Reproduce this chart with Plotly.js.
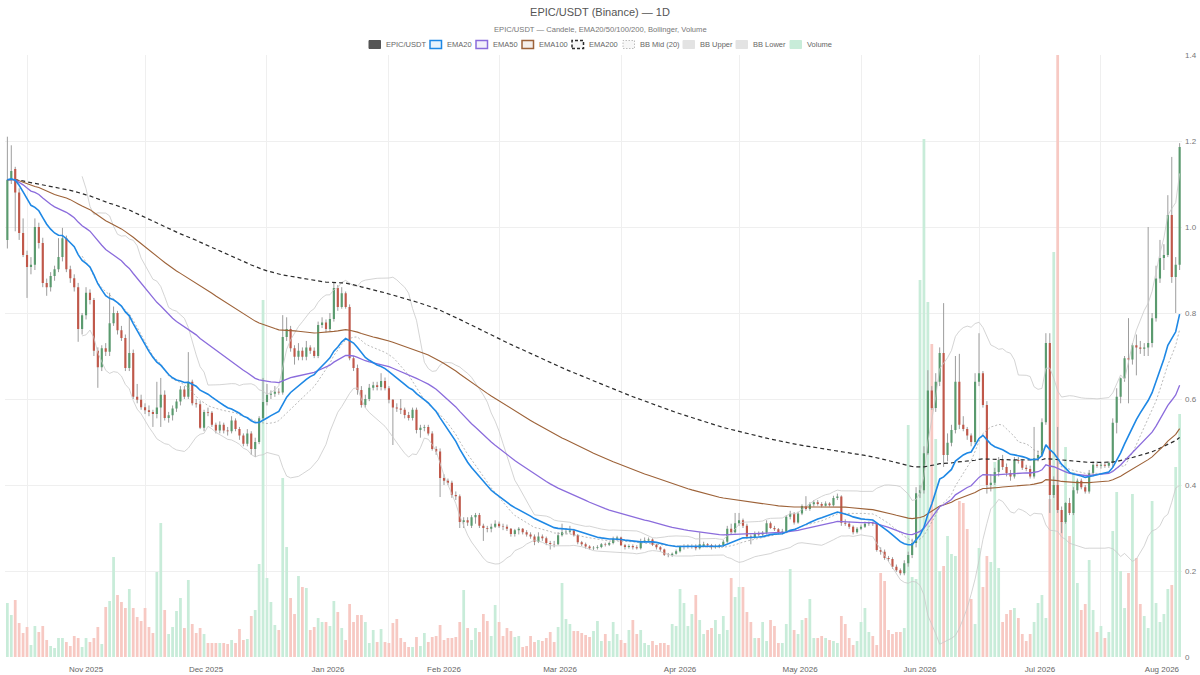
<!DOCTYPE html>
<html>
<head>
<meta charset="utf-8">
<script src="https://cdn.plot.ly/plotly-3.0.1.min.js"></script>
<style>
html,body{margin:0;padding:0;background:#fff;}
#chart{width:1200px;height:675px;}
</style>
</head>
<body>
<div id="chart"></div>
<script>
// ---------------- DATA ----------------
const START_DATE = '2025-10-27';   // first daily candle

const open = [
 .97,1.11,1.135,1.08,.986,.935,.907,.912,1.0,.963,
 .87,.86,.886,.902,.93,.974,.902,.881,.86,.763,
 .795,.847,.83,.712,.674,.718,.71,.776,.80,.76,
 .742,.672,.707,.605,.598,.581,.574,.570,.565,.58,
 .61,.556,.562,.578,.594,.622,.605,.64,.59,.588,
 .533,.57,.568,.54,.527,.54,.527,.525,.55,.53,
 .515,.496,.52,.484,.50,.555,.593,.61,.612,.617,
 .615,.744,.763,.718,.698,.712,.698,.72,.712,.70,
 .772,.778,.763,.786,.858,.814,.846,.814,.695,.672,
 .621,.586,.60,.626,.632,.628,.642,.625,.598,.58,
 .578,.575,.563,.556,.575,.528,.533,.535,.52,.484,
 .478,.416,.41,.405,.377,.374,.314,.318,.305,.325,
 .33,.305,.30,.298,.303,.31,.304,.303,.298,.286,
 .295,.298,.29,.285,.28,.268,.28,.276,.265,.263,
 .262,.283,.29,.291,.294,.283,.267,.262,.257,.253,
 .254,.256,.262,.261,.265,.275,.278,.26,.256,.258,
 .255,.253,.27,.271,.273,.261,.255,.25,.238,.237,
 .24,.246,.256,.257,.257,.258,.253,.258,.262,.26,
 .255,.257,.26,.268,.298,.29,.311,.318,.305,.28,
 .279,.287,.285,.289,.311,.30,.297,.29,.292,.326,
 .333,.313,.334,.351,.344,.355,.36,.356,.352,.357,
 .353,.37,.373,.312,.31,.303,.29,.298,.303,.31,
 .311,.31,.249,.245,.23,.228,.21,.202,.195,.218,
 .237,.265,.381,.388,.474,.62,.579,.64,.707,.47,
 .498,.528,.64,.54,.53,.515,.50,.64,.66,.586,
 .40,.405,.43,.458,.442,.428,.42,.458,.456,.44,
 .437,.42,.462,.47,.546,.73,.377,.40,.342,.314,
 .358,.335,.388,.41,.395,.385,.428,.447,.445,.447,
 .445,.452,.545,.605,.648,.695,.692,.725,.72,.717,
 .72,.73,.788,.88,.928,.935,1.028,.884,.912
];

const high = [
 1.21,1.19,1.14,1.09,1.02,.945,.93,1.02,1.01,.975,
 .88,.895,.91,.974,.998,.98,.91,.89,.87,.80,
 .86,.855,.835,.72,.725,.73,.847,.815,.805,.77,
 .75,.795,.715,.635,.61,.59,.585,.575,.64,.649,
 .62,.57,.585,.60,.63,.63,.709,.645,.60,.595,
 .575,.58,.572,.545,.548,.545,.535,.56,.555,.535,
 .52,.53,.525,.51,.56,.649,.635,.62,.63,.625,
 .795,.79,.77,.725,.73,.72,.735,.725,.72,.78,
 .79,.785,.80,.872,.865,.86,.85,.82,.70,.68,
 .63,.61,.635,.64,.64,.66,.65,.63,.60,.59,
 .60,.58,.57,.58,.58,.54,.54,.54,.525,.49,
 .485,.425,.415,.41,.385,.378,.325,.325,.33,.335,
 .335,.31,.305,.31,.318,.315,.31,.308,.30,.298,
 .302,.30,.295,.29,.285,.29,.285,.28,.27,.27,
 .29,.31,.30,.305,.298,.286,.27,.266,.26,.258,
 .26,.265,.266,.268,.28,.282,.28,.263,.262,.262,
 .26,.275,.278,.278,.276,.263,.258,.252,.242,.243,
 .25,.26,.262,.262,.262,.262,.29,.268,.265,.263,
 .262,.263,.272,.305,.31,.335,.335,.322,.31,.285,
 .292,.292,.293,.318,.315,.305,.30,.298,.33,.34,
 .337,.338,.355,.374,.36,.365,.365,.36,.362,.36,
 .375,.38,.376,.32,.315,.306,.302,.308,.315,.315,
 .315,.312,.255,.25,.235,.232,.215,.206,.225,.245,
 .275,.395,.40,.49,.667,.63,.66,.72,.823,.52,
 .54,.70,.705,.56,.535,.52,.66,.753,.665,.595,
 .425,.44,.465,.47,.45,.435,.465,.465,.46,.447,
 .445,.535,.48,.555,.753,.753,.42,.535,.35,.36,
 .37,.395,.415,.415,.40,.435,.455,.455,.452,.453,
 .455,.555,.625,.65,.70,.788,.73,.75,.735,.73,
 1.0,.80,.91,.97,.96,1.074,1.163,.93,1.195
];

const low = [
 .95,1.10,.99,.97,.93,.835,.89,.90,.95,.86,
 .84,.85,.875,.895,.92,.895,.87,.85,.733,.75,
 .785,.82,.70,.626,.665,.70,.70,.77,.75,.735,
 .665,.665,.60,.59,.575,.565,.56,.535,.555,.535,
 .55,.545,.55,.57,.585,.60,.60,.585,.58,.53,
 .525,.56,.535,.52,.52,.52,.515,.52,.525,.505,
 .49,.49,.47,.465,.495,.55,.585,.60,.605,.61,
 .61,.735,.71,.68,.69,.69,.69,.705,.695,.695,
 .765,.755,.758,.78,.805,.81,.81,.69,.665,.61,
 .58,.58,.595,.62,.62,.62,.62,.59,.493,.57,
 .565,.555,.55,.55,.52,.51,.525,.515,.48,.47,
 .372,.40,.40,.37,.365,.30,.30,.305,.30,.31,
 .30,.27,.29,.29,.30,.30,.295,.293,.28,.28,
 .285,.285,.28,.275,.26,.265,.27,.26,.25,.255,
 .26,.28,.285,.287,.28,.262,.258,.252,.25,.249,
 .25,.253,.257,.258,.262,.27,.258,.25,.252,.25,
 .25,.25,.265,.267,.258,.25,.245,.235,.232,.233,
 .238,.243,.25,.252,.252,.248,.25,.255,.255,.25,
 .252,.253,.256,.265,.285,.287,.305,.30,.275,.262,
 .275,.28,.28,.285,.298,.293,.285,.285,.288,.32,
 .308,.31,.33,.34,.34,.35,.352,.348,.35,.35,
 .35,.365,.305,.305,.298,.285,.287,.295,.30,.305,
 .305,.245,.238,.226,.222,.205,.198,.19,.19,.21,
 .23,.255,.37,.38,.47,.575,.57,.63,.442,.455,
 .49,.52,.53,.525,.505,.49,.495,.63,.58,.38,
 .385,.40,.42,.435,.42,.41,.415,.45,.435,.432,
 .415,.415,.455,.465,.54,.335,.37,.335,.288,.31,
 .33,.33,.38,.39,.38,.38,.42,.44,.438,.44,
 .44,.44,.52,.59,.64,.59,.68,.655,.705,.70,
 .70,.72,.78,.87,.90,.93,.87,.80,.90
];

const close = [
 1.11,1.13,1.08,.986,.935,.907,.912,1.0,.963,.87,
 .86,.886,.902,.93,.974,.902,.881,.86,.763,.795,
 .847,.83,.712,.674,.718,.71,.776,.80,.76,.742,
 .672,.707,.605,.598,.581,.574,.570,.565,.58,.61,
 .556,.562,.578,.594,.622,.605,.64,.59,.588,.533,
 .57,.568,.54,.527,.54,.527,.525,.55,.53,.515,
 .496,.52,.484,.50,.555,.593,.61,.612,.617,.615,
 .744,.763,.718,.698,.712,.698,.72,.712,.70,.772,
 .778,.763,.786,.858,.814,.846,.814,.695,.672,.621,
 .586,.60,.626,.632,.628,.642,.625,.598,.58,.578,
 .575,.563,.556,.575,.528,.533,.535,.52,.484,.478,
 .416,.41,.405,.377,.374,.314,.318,.313,.325,.33,
 .305,.30,.298,.303,.31,.304,.303,.298,.286,.295,
 .298,.29,.285,.28,.268,.28,.276,.265,.263,.262,
 .283,.29,.291,.294,.283,.267,.262,.257,.253,.254,
 .256,.262,.261,.265,.275,.278,.26,.256,.258,.255,
 .253,.27,.271,.273,.261,.255,.25,.238,.237,.24,
 .246,.256,.257,.259,.258,.253,.262,.262,.26,.255,
 .257,.26,.268,.298,.29,.311,.318,.305,.28,.279,
 .287,.285,.289,.311,.30,.297,.29,.292,.326,.333,
 .313,.334,.351,.344,.355,.36,.356,.352,.357,.353,
 .37,.373,.312,.31,.303,.29,.298,.303,.31,.311,
 .31,.249,.245,.23,.228,.21,.202,.195,.218,.237,
 .265,.381,.388,.474,.62,.579,.64,.707,.47,.498,
 .528,.64,.54,.53,.515,.50,.64,.66,.586,.40,
 .405,.43,.458,.442,.428,.42,.458,.456,.44,.437,
 .42,.462,.47,.546,.73,.377,.40,.342,.314,.358,
 .335,.388,.41,.395,.385,.428,.447,.445,.447,.445,
 .452,.545,.605,.648,.695,.692,.725,.72,.717,.72,
 .73,.788,.88,.928,.935,1.028,.884,.912,1.186
];

// daily volume, millions
const volume = [
 5.4,4.2,5.7,3.4,2.4,3.0,1.2,3.1,2.5,3.1,
 1.7,1.1,0.9,1.9,1.9,1.5,1.1,2.1,1.9,1.0,
 1.9,1.5,1.9,3.0,1.3,5.0,5.6,10.0,6.2,5.5,
 4.9,6.8,4.9,4.0,3.6,4.9,3.0,2.4,8.5,13.4,
 4.7,2.3,3.0,4.6,5.9,2.9,7.7,3.3,2.4,2.9,
 2.3,1.4,1.4,1.4,1.4,1.4,1.3,1.7,1.4,2.8,
 1.7,1.8,4.1,4.7,9.3,35.7,7.9,5.5,3.2,2.7,
 17.9,11.0,5.9,4.3,8.1,7.0,6.9,2.7,3.0,3.9,
 3.5,3.5,3.1,5.6,4.5,2.9,1.7,5.3,3.5,4.2,
 4.2,3.5,1.4,2.7,1.5,2.8,1.5,1.4,3.4,3.8,
 1.9,1.5,1.0,1.0,2.0,1.1,2.4,1.5,2.0,2.1,
 3.2,1.7,1.9,1.9,2.0,3.5,6.7,2.9,1.7,2.9,
 2.5,4.3,3.6,2.1,5.2,3.5,2.1,2.9,2.6,2.0,
 2.1,1.0,1.1,2.1,1.5,1.7,1.6,1.9,2.5,1.5,
 3.0,7.4,3.8,3.3,2.6,2.6,2.4,2.2,2.0,2.6,
 3.6,1.6,2.3,1.6,3.5,2.3,1.7,1.4,2.7,3.7,
 2.3,2.7,1.4,1.2,1.6,1.2,1.4,1.4,1.2,3.3,
 3.1,6.8,5.4,3.1,4.3,6.2,3.7,2.3,2.7,2.9,
 3.7,2.3,4.1,2.7,7.9,6.0,7.0,7.0,4.5,3.5,
 1.9,1.9,3.5,1.6,3.7,3.1,1.4,1.4,3.3,8.8,
 2.7,2.3,3.7,3.9,5.8,1.9,1.9,2.1,1.9,1.7,
 1.6,1.4,4.1,3.3,1.9,1.2,1.6,3.5,4.9,2.5,
 2.1,1.2,8.4,7.6,2.7,2.3,2.5,2.5,2.9,23.2,
 8.0,7.8,37.7,51.8,35.5,31.3,21.8,8.6,9.1,12.1,
 10.3,10.1,15.6,15.4,12.8,5.8,3.3,10.9,7.0,10.1,
 9.5,19.5,8.9,3.5,4.3,4.7,4.9,3.9,2.3,1.6,
 2.3,3.5,5.4,6.2,3.9,15.8,40.5,60.2,13.6,21.0,
 12.1,18.5,7.4,4.7,5.3,9.7,4.7,2.5,3.1,1.9,
 2.5,12.6,16.5,8.6,4.9,8.4,16.3,9.9,5.3,4.1,
 2.9,15.6,5.4,3.5,4.3,6.8,7.2,19.0,24.3
];

const priceTickVals  = [0, 0.2, 0.4, 0.6, 0.8, 1.0, 1.2, 1.4];
const priceTickText  = ['0', '0.2', '0.4', '0.6', '0.8', '1.0', '1.2', '1.4'];
const titleText      = 'EPIC/USDT (Binance) — 1D';
const subtitleText   = 'EPIC/USDT — Candele, EMA20/50/100/200, Bollinger, Volume';
const legendNames    = ['EPIC/USDT','EMA20','EMA50','EMA100','EMA200','BB Mid (20)','BB Upper','BB Lower','Volume'];

// ---------------- derived ----------------
const N = close.length;
const DAY = 86400000;
const t0 = Date.parse(START_DATE + 'T00:00:00Z');
const fmt = ms => new Date(ms).toISOString().replace('T',' ').replace('Z','').slice(0,19);
const dates = [];
for (let i = 0; i < N; i++) dates.push(fmt(t0 + i*DAY).slice(0,10));

function ema(src, n) {
  const k = 2/(n+1), out = [];
  let prev = src[0];
  for (let i = 0; i < src.length; i++) {
    prev = i === 0 ? src[0] : src[i]*k + prev*(1-k);
    out.push(prev);
  }
  return out;
}
const bbMid = [], bbUp = [], bbLo = [];
for (let i = 0; i < N; i++) {
  if (i < 19) { bbMid.push(null); bbUp.push(null); bbLo.push(null); continue; }
  const w = close.slice(i-19, i+1);
  const m = w.reduce((a,b)=>a+b,0)/20;
  const sd = Math.sqrt(w.reduce((a,b)=>a+(b-m)*(b-m),0)/20);
  bbMid.push(m); bbUp.push(m+2*sd); bbLo.push(m-2*sd);
}

const volColors = close.map((c,i) => c >= open[i] ? '#c8ecd9' : '#f7c9c3');
const wickX = [], wickY = [];
for (let i = 0; i < N; i++) { wickX.push(dates[i], dates[i], null); wickY.push(low[i], high[i], null); }

// ---------------- styling ----------------
const COL = {
  up: '#5a9a6e', down: '#c0584a', wick: '#9d9d9d',
  ema20: '#1e88e5', ema50: '#8b6cdc', ema100: '#9d6238', ema200: '#2b2b2b',
  bbMid: '#a8a8a8', bb: '#c9c9c9'
};
const FONT = 'Liberation Sans, Arial, Helvetica, sans-serif';
const W = 1200, H = 675, ML = 5, MR = 18, MT = 55, MB = 18;
const PW = W - ML - MR, PH = H - MT - MB;
const pxX = px => (px - ML)/PW;
const pxY = py => (H - MB - py)/PH;

const traces = [
  { type:'bar', name:'Volume', x:dates, y:volume, marker:{color:volColors, line:{width:0}},
    xaxis:'x', yaxis:'y', showlegend:false, hoverinfo:'skip' },
  { type:'scatter', mode:'lines', name:'wicks', x:wickX, y:wickY, xaxis:'x', yaxis:'y2',
    line:{color:COL.wick, width:1}, showlegend:false, hoverinfo:'skip', connectgaps:false },
  { type:'candlestick', name:'EPIC/USDT', x:dates, open, high, low, close, xaxis:'x', yaxis:'y3',
    increasing:{line:{color:COL.up, width:0}, fillcolor:COL.up},
    decreasing:{line:{color:COL.down, width:0}, fillcolor:COL.down},
    whiskerwidth:0, showlegend:false, hoverinfo:'skip' },
  { type:'scatter', mode:'lines', name:'BB Upper', x:dates, y:bbUp, xaxis:'x', yaxis:'y3',
    line:{color:COL.bb, width:0.8}, showlegend:false, hoverinfo:'skip' },
  { type:'scatter', mode:'lines', name:'BB Lower', x:dates, y:bbLo, xaxis:'x', yaxis:'y3',
    line:{color:COL.bb, width:0.8}, showlegend:false, hoverinfo:'skip' },
  { type:'scatter', mode:'lines', name:'BB Mid (20)', x:dates, y:bbMid, xaxis:'x', yaxis:'y3',
    line:{color:COL.bbMid, width:0.8, dash:'2px,2px'}, showlegend:false, hoverinfo:'skip' },
  { type:'scatter', mode:'lines', name:'EMA200', x:dates, y:ema(close,200), xaxis:'x', yaxis:'y3',
    line:{color:COL.ema200, width:1.2, dash:'4px,3px'}, showlegend:false, hoverinfo:'skip' },
  { type:'scatter', mode:'lines', name:'EMA100', x:dates, y:ema(close,100), xaxis:'x', yaxis:'y3',
    line:{color:COL.ema100, width:1.1}, showlegend:false, hoverinfo:'skip' },
  { type:'scatter', mode:'lines', name:'EMA50', x:dates, y:ema(close,50), xaxis:'x', yaxis:'y3',
    line:{color:COL.ema50, width:1.3}, showlegend:false, hoverinfo:'skip' },
  { type:'scatter', mode:'lines', name:'EMA20', x:dates, y:ema(close,20), xaxis:'x', yaxis:'y3',
    line:{color:COL.ema20, width:1.6}, showlegend:false, hoverinfo:'skip' }
];

// custom legend (boxes like the reference)
const legendStyle = [
  {ix:369, fill:'#555555', line:'#555555', dash:'solid', lw:1},
  {ix:430, fill:'rgba(30,136,229,0.10)', line:COL.ema20, dash:'solid', lw:1.5},
  {ix:476, fill:'rgba(139,108,220,0.10)', line:COL.ema50, dash:'solid', lw:1.5},
  {ix:522, fill:'rgba(157,98,56,0.10)', line:COL.ema100, dash:'solid', lw:1.5},
  {ix:572, fill:'rgba(0,0,0,0.04)', line:COL.ema200, dash:'3px,2px', lw:1.5},
  {ix:623, fill:'rgba(0,0,0,0.03)', line:'#bdbdbd', dash:'1.5px,1.5px', lw:1},
  {ix:683, fill:'#e3e3e3', line:'#e3e3e3', dash:'solid', lw:1},
  {ix:736, fill:'#e3e3e3', line:'#e3e3e3', dash:'solid', lw:1},
  {ix:790, fill:'#c8ecd9', line:'#c8ecd9', dash:'solid', lw:1}
];
const shapes = [], annotations = [];
const LY = 44.5;
legendNames.forEach((name, i) => {
  const s = legendStyle[i];
  shapes.push({type:'rect', xref:'paper', yref:'paper',
    x0:pxX(s.ix), x1:pxX(s.ix+11.5), y0:pxY(LY+4), y1:pxY(LY-4),
    fillcolor:s.fill, line:{color:s.line, width:s.lw, dash:s.dash}, layer:'above'});
  annotations.push({xref:'paper', yref:'paper', x:pxX(s.ix+15), y:pxY(LY), xanchor:'left', yanchor:'middle',
    text:name, showarrow:false, font:{family:FONT, size:7.5, color:'#666'}});
});
annotations.push({xref:'paper', yref:'paper', x:pxX(600), y:pxY(30), xanchor:'center', yanchor:'middle',
  text:subtitleText, showarrow:false, font:{family:FONT, size:7.6, color:'#777'}});

if (![open,high,low,volume].every(a => a.length === N)) {
  annotations.push({xref:'paper', yref:'paper', x:0.5, y:0.5, text:'LENGTH MISMATCH '+[open.length,high.length,low.length,close.length,volume.length].join(','),
    showarrow:false, font:{size:30,color:'red'}});
}

const layout = {
  width:W, height:H,
  margin:{l:ML, r:MR, t:MT, b:MB, pad:0},
  paper_bgcolor:'#ffffff', plot_bgcolor:'#ffffff',
  font:{family:FONT, size:8, color:'#666'},
  title:{text:titleText, font:{family:FONT, size:11, color:'#555'}, x:0.5, xref:'container',
         y:1-12.5/H, yref:'container', yanchor:'middle'},
  showlegend:false,
  hovermode:false,
  bargap:0.3,
  boxgap:0.22,
  xaxis:{type:'date', range:[fmt(t0 - 0.6*DAY), fmt(t0 + (N-1)*DAY + 0.6*DAY)],
         dtick:'M1', tickformat:'%b %Y', ticklabelmode:'period', ticklabelstandoff:6,
         showgrid:true, gridcolor:'#efefef', gridwidth:1, zeroline:false, showline:false,
         ticks:'', tickfont:{family:FONT, size:8, color:'#666'}, rangeslider:{visible:false},
         fixedrange:true},
  yaxis:{range:[0, Math.max(...volume)], visible:false, showgrid:false, zeroline:false, fixedrange:true},
  yaxis2:{range:[0,1.4], overlaying:'y', visible:false, showgrid:false, zeroline:false, fixedrange:true},
  yaxis3:{range:[0,1.4], overlaying:'y', side:'right', tickvals:priceTickVals, ticktext:priceTickText,
          showgrid:true, gridcolor:'#efefef', gridwidth:1, zeroline:false, showline:false, ticks:'',
          ticklabelstandoff:2,
          tickfont:{family:FONT, size:8, color:'#777'}, fixedrange:true},
  shapes, annotations
};

Plotly.newPlot('chart', traces, layout, {staticPlot:true, displayModeBar:false, responsive:false});
</script>
</body>
</html>
